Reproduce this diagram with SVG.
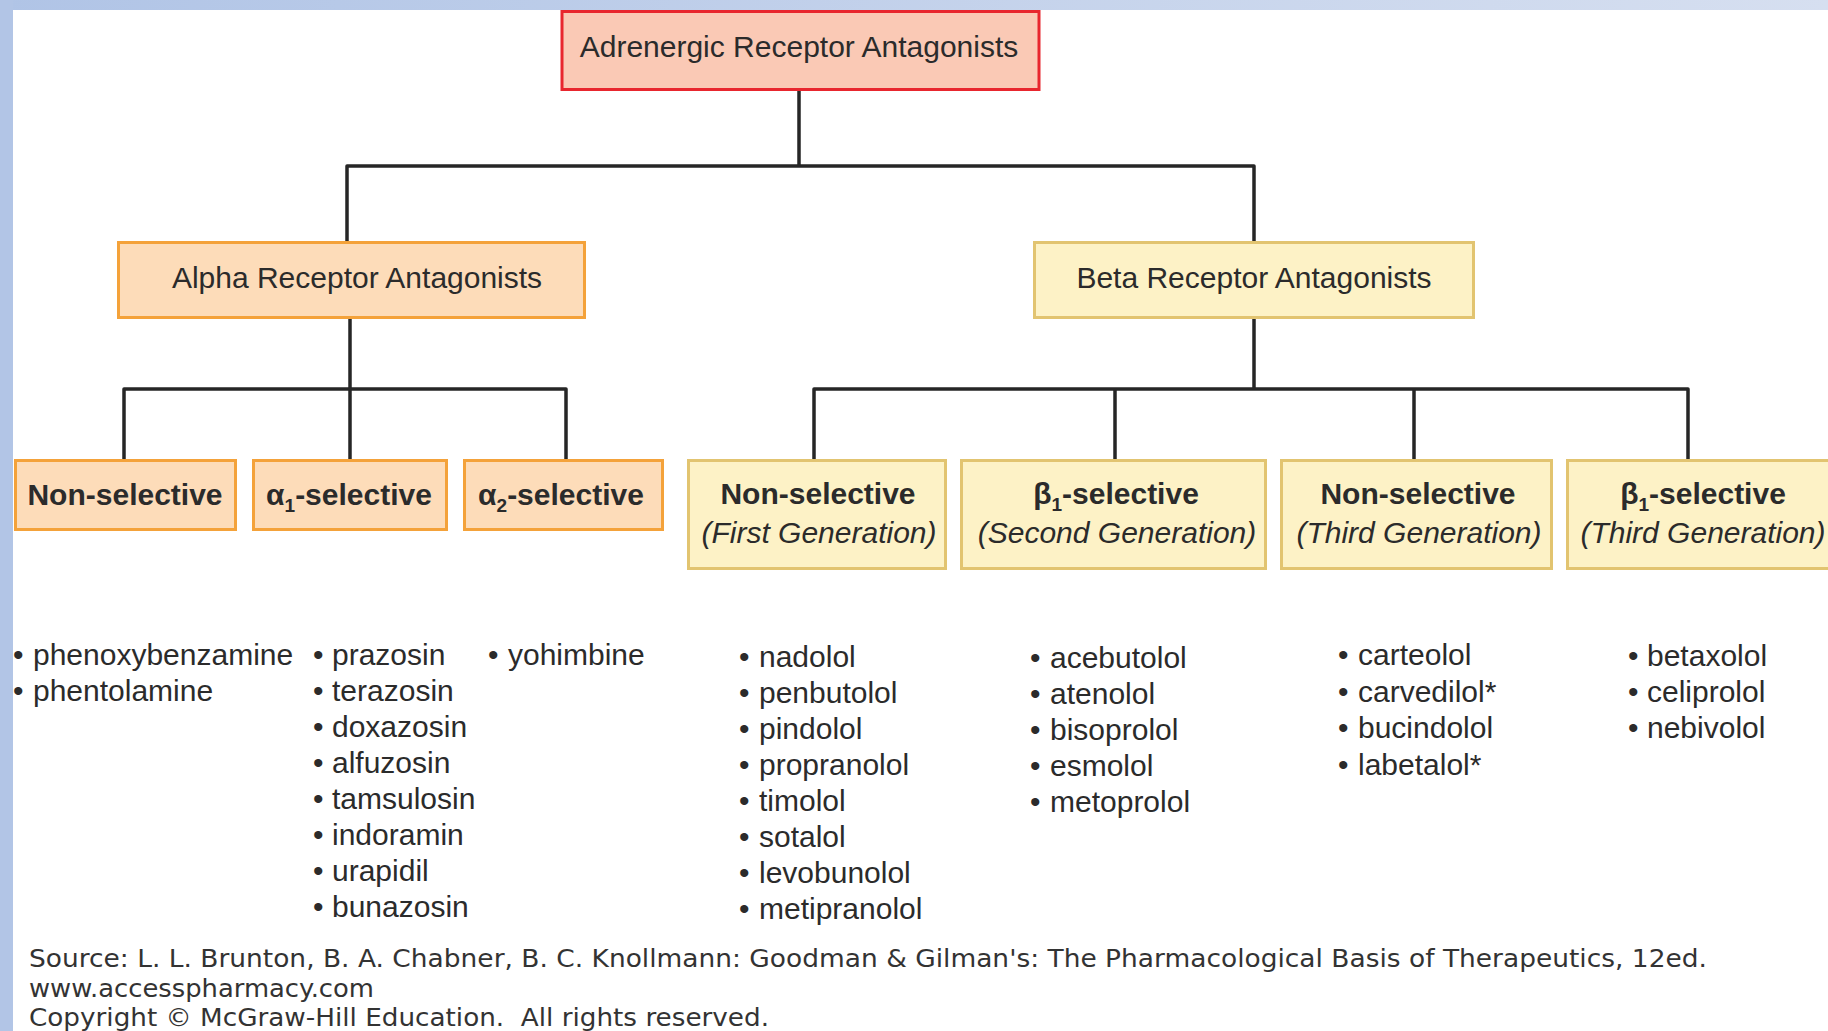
<svg xmlns="http://www.w3.org/2000/svg" width="1828" height="1031" viewBox="0 0 1828 1031">
<defs>
<linearGradient id="band" x1="0" y1="0" x2="1" y2="0"><stop offset="0" stop-color="#b0c4e6"/><stop offset="1" stop-color="#d6dff0"/></linearGradient>
<style>
.t{font-family:"Liberation Sans",Arial,sans-serif;fill:#2b2b2b;}
.hdr{font-size:30px;text-anchor:middle;}
.b{font-size:30px;font-weight:bold;text-anchor:middle;}
.i{font-size:30px;font-style:italic;text-anchor:middle;}
.li{font-size:30px;}
.bu{font-size:30px;}
.red{fill:#fac9b5;stroke:#e8262e;stroke-width:3;}
.org{fill:#fddcb9;stroke:#f4a23a;stroke-width:3;}
.yel{fill:#fdf2c6;stroke:#e2c470;stroke-width:3;}
.conn{fill:none;stroke:#262626;stroke-width:3.5;stroke-linejoin:round;}
.src{font-family:"DejaVu Sans",Verdana,sans-serif;font-size:25px;fill:#333;white-space:pre;}
</style>
</defs>
<rect x="0" y="0" width="1828" height="1031" fill="#ffffff"/>
<rect x="0" y="0" width="1828" height="10" fill="url(#band)"/>
<rect x="0" y="0" width="13" height="1031" fill="#b2c5e6"/>

<g id="connectors">
<path class="conn" d="M799 91 V166 M347 241 V166 H1254 V241"/>
<path class="conn" d="M350 319 V459 M124 459 V389 H566 V459"/>
<path class="conn" d="M1254 319 V389 M814 459 V389 H1688 V459 M1115 389 V459 M1414 389 V459"/>
</g>

<g id="adrenergic">
<rect class="red" x="562" y="11.5" width="477" height="78"/>
<text class="t hdr" x="799" y="57">Adrenergic Receptor Antagonists</text>
</g>
<g id="alpha">
<rect class="org" x="118.5" y="242.5" width="466" height="75"/>
<text class="t hdr" x="357" y="288">Alpha Receptor Antagonists</text>
</g>
<g id="beta">
<rect class="yel" x="1034.5" y="242.5" width="439" height="75"/>
<text class="t hdr" x="1254" y="288">Beta Receptor Antagonists</text>
</g>

<g id="alpha-nonselective">
<rect class="org" x="15.5" y="460.5" width="220" height="69"/>
<text class="t b" x="125" y="505">Non-selective</text>
</g>
<g id="alpha1-selective">
<rect class="org" x="253.5" y="460.5" width="193" height="69"/>
<text class="t b" x="349" y="505">α<tspan font-size="19" dy="7">1</tspan><tspan dy="-7">-selective</tspan></text>
</g>
<g id="alpha2-selective">
<rect class="org" x="464.5" y="460.5" width="198" height="69"/>
<text class="t b" x="561" y="505">α<tspan font-size="19" dy="7">2</tspan><tspan dy="-7">-selective</tspan></text>
</g>

<g id="beta-first">
<rect class="yel" x="688.5" y="460.5" width="257" height="108"/>
<text class="t b" x="818" y="504">Non-selective</text>
<text class="t i" x="819" y="543">(First Generation)</text>
</g>
<g id="beta-second">
<rect class="yel" x="961.5" y="460.5" width="304" height="108"/>
<text class="t b" x="1116" y="504">β<tspan font-size="19" dy="7">1</tspan><tspan dy="-7">-selective</tspan></text>
<text class="t i" x="1117" y="543">(Second Generation)</text>
</g>
<g id="beta-third-nonselective">
<rect class="yel" x="1281.5" y="460.5" width="270" height="108"/>
<text class="t b" x="1418" y="504">Non-selective</text>
<text class="t i" x="1419" y="543">(Third Generation)</text>
</g>
<g id="beta-third-selective">
<rect class="yel" x="1567.5" y="460.5" width="272" height="108"/>
<text class="t b" x="1703" y="504">β<tspan font-size="19" dy="7">1</tspan><tspan dy="-7">-selective</tspan></text>
<text class="t i" x="1703" y="543">(Third Generation)</text>
</g>

<g id="list-alpha-nonselective" class="t li">
<text y="665"><tspan class="bu" x="13">•</tspan><tspan x="33">phenoxybenzamine</tspan></text>
<text y="701"><tspan class="bu" x="13">•</tspan><tspan x="33">phentolamine</tspan></text>
</g>
<g id="list-alpha1" class="t li">
<text y="665"><tspan class="bu" x="313">•</tspan><tspan x="332">prazosin</tspan></text>
<text y="701"><tspan class="bu" x="313">•</tspan><tspan x="332">terazosin</tspan></text>
<text y="737"><tspan class="bu" x="313">•</tspan><tspan x="332">doxazosin</tspan></text>
<text y="773"><tspan class="bu" x="313">•</tspan><tspan x="332">alfuzosin</tspan></text>
<text y="809"><tspan class="bu" x="313">•</tspan><tspan x="332">tamsulosin</tspan></text>
<text y="845"><tspan class="bu" x="313">•</tspan><tspan x="332">indoramin</tspan></text>
<text y="881"><tspan class="bu" x="313">•</tspan><tspan x="332">urapidil</tspan></text>
<text y="917"><tspan class="bu" x="313">•</tspan><tspan x="332">bunazosin</tspan></text>
</g>
<g id="list-alpha2" class="t li">
<text y="665"><tspan class="bu" x="488">•</tspan><tspan x="508">yohimbine</tspan></text>
</g>
<g id="list-beta-first" class="t li">
<text y="667"><tspan class="bu" x="739">•</tspan><tspan x="759">nadolol</tspan></text>
<text y="703"><tspan class="bu" x="739">•</tspan><tspan x="759">penbutolol</tspan></text>
<text y="739"><tspan class="bu" x="739">•</tspan><tspan x="759">pindolol</tspan></text>
<text y="775"><tspan class="bu" x="739">•</tspan><tspan x="759">propranolol</tspan></text>
<text y="811"><tspan class="bu" x="739">•</tspan><tspan x="759">timolol</tspan></text>
<text y="847"><tspan class="bu" x="739">•</tspan><tspan x="759">sotalol</tspan></text>
<text y="883"><tspan class="bu" x="739">•</tspan><tspan x="759">levobunolol</tspan></text>
<text y="919"><tspan class="bu" x="739">•</tspan><tspan x="759">metipranolol</tspan></text>
</g>
<g id="list-beta-second" class="t li">
<text y="668"><tspan class="bu" x="1030">•</tspan><tspan x="1050">acebutolol</tspan></text>
<text y="704"><tspan class="bu" x="1030">•</tspan><tspan x="1050">atenolol</tspan></text>
<text y="740"><tspan class="bu" x="1030">•</tspan><tspan x="1050">bisoprolol</tspan></text>
<text y="776"><tspan class="bu" x="1030">•</tspan><tspan x="1050">esmolol</tspan></text>
<text y="812"><tspan class="bu" x="1030">•</tspan><tspan x="1050">metoprolol</tspan></text>
</g>
<g id="list-beta-third-nonselective" class="t li">
<text y="665"><tspan class="bu" x="1338">•</tspan><tspan x="1358">carteolol</tspan></text>
<text y="701.5"><tspan class="bu" x="1338">•</tspan><tspan x="1358">carvedilol*</tspan></text>
<text y="738"><tspan class="bu" x="1338">•</tspan><tspan x="1358">bucindolol</tspan></text>
<text y="774.5"><tspan class="bu" x="1338">•</tspan><tspan x="1358">labetalol*</tspan></text>
</g>
<g id="list-beta-third-selective" class="t li">
<text y="666"><tspan class="bu" x="1628">•</tspan><tspan x="1647">betaxolol</tspan></text>
<text y="702"><tspan class="bu" x="1628">•</tspan><tspan x="1647">celiprolol</tspan></text>
<text y="738"><tspan class="bu" x="1628">•</tspan><tspan x="1647">nebivolol</tspan></text>
</g>

<g id="source">
<text class="src" x="29" y="966.5" textLength="1678" lengthAdjust="spacingAndGlyphs">Source: L. L. Brunton, B. A. Chabner, B. C. Knollmann: Goodman &amp; Gilman's: The Pharmacological Basis of Therapeutics, 12ed.</text>
<text class="src" x="29" y="997" textLength="345" lengthAdjust="spacingAndGlyphs">www.accesspharmacy.com</text>
<text class="src" x="29" y="1026" textLength="740" lengthAdjust="spacingAndGlyphs">Copyright © McGraw-Hill Education.  All rights reserved.</text>
</g>
</svg>
